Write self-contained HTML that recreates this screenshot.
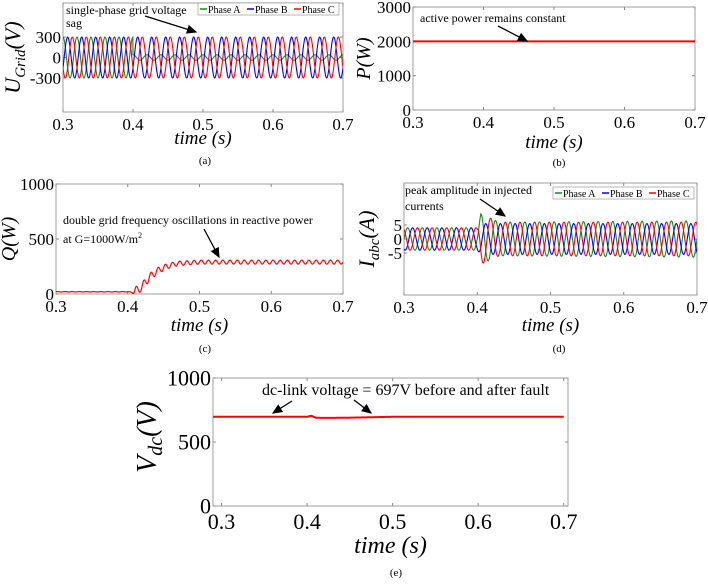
<!DOCTYPE html>
<html><head><meta charset="utf-8"><style>
html,body{margin:0;padding:0;background:#fff;}
svg, svg text{font-family:"Liberation Serif","DejaVu Serif",serif;}
</style></head><body>
<svg id="fig" width="708" height="581" viewBox="0 0 708 581" font-family="Liberation Serif, serif">
<defs><marker id="ah" markerWidth="8" markerHeight="8" refX="7" refY="4" orient="auto"><path d="M0,0.5 L8,4 L0,7.5 z" fill="#000"/></marker></defs>
</svg>
<script>
// ---- data ----
const xTicks = [0.3,0.4,0.5,0.6,0.7];
const gridFreq = 50;
const faultTime = 0.4;
const voltPhaseNames = ["Phase A","Phase B","Phase C"];
const voltAmpBefore = [300,300,300];
const voltAmpAfter = [40,300,300];
const voltYTicks = [-300,0,300];
const pTicks = [0,1000,2000,3000];
const pTimes = [0.3,0.7];
const pValues = [2000,2000];
const qTicks = [0,500,1000];
const qTimes = [0.3,0.4,0.405,0.41,0.415,0.42,0.43,0.44,0.45,0.46,0.47,0.5,0.7];
const qMean = [20,20,15,40,30,70,150,205,240,262,278,290,290];
const qRipple = [2,2,5,40,30,35,35,30,25,22,20,18,18];
const iTicks = [-5,0,5];
const iTimes = [0.3,0.4,0.405,0.43,0.7];
const iAmpA = [4,4,9,6,6.5];
const iAmpB = [4,4,5.5,5.5,5.5];
const iAmpC = [4,4,9,6,6];
const vdcTicks = [0,500,1000];
const vdcTimes = [0.3,0.4,0.405,0.41,0.42,0.45,0.5,0.7];
const vdcValues = [697,697,705,690,688,690,697,697];

const NS="http://www.w3.org/2000/svg";
const FF='Liberation Serif, serif';
const svg=document.getElementById('fig');
function el(tag,attrs,parent){const e=document.createElementNS(NS,tag);for(const k in attrs)e.setAttribute(k,attrs[k]);if(tag==='text')e.setAttribute('font-family',FF);(parent||svg).appendChild(e);return e;}
function interp(ts,vs,t){if(t<=ts[0])return vs[0];for(let i=1;i<ts.length;i++){if(t<=ts[i]){const f=(t-ts[i-1])/(ts[i]-ts[i-1]);return vs[i-1]+f*(vs[i]-vs[i-1]);}}return vs[vs.length-1];}
const colors=["#1a8a1a","#0000ff","#ff0000"];

// parts: [[text, fontSize, dy]]
function ylabel(parent,cx,cy,parts){
  const g=el('g',{transform:`translate(${cx},${cy}) rotate(-90)`},parent);
  
  
  const ts=parts.map(p=>{const t=el('text',{x:0,y:p[2],'font-size':p[1],'font-style':'italic'},g);t.textContent=p[0];return t;});
  const ws=ts.map(t=>{try{return t.getComputedTextLength();}catch(e){return 10;}});
  const total=ws.reduce((a,b)=>a+b,0);
  let x=-total/2;
  ts.forEach((t,i)=>{t.setAttribute('x',x.toFixed(1));x+=ws[i];});
}

function panel(c){
  const g=el('g',{});
  
  
  const sx=v=>c.x0+(v-c.xmin)/(c.xmax-c.xmin)*(c.x1-c.x0);
  const sy=v=>c.y1-(v-c.ymin)/(c.ymax-c.ymin)*(c.y1-c.y0);
  const box=el('rect',{x:c.x0,y:c.y0,width:c.x1-c.x0,height:c.y1-c.y0,fill:'#fff',stroke:'#888','stroke-width':0.8},g);
  
  
  xTicks.forEach(t=>{
    const X=sx(t);
    el('line',{x1:X,x2:X,y1:c.y1,y2:c.y1-3,stroke:'#888'},g);
    el('line',{x1:X,x2:X,y1:c.y0,y2:c.y0+3,stroke:'#888'},g);
    const tx=el('text',{x:X,y:c.y1+c.fs+1,'font-size':c.fs,'text-anchor':'middle'},g);
    tx.textContent=t.toFixed(1);
    
    
  });
  c.yt.forEach(t=>{
    const Y=sy(t);
    el('line',{x1:c.x0,x2:c.x0+3,y1:Y,y2:Y,stroke:'#888'},g);
    el('line',{x1:c.x1,x2:c.x1-3,y1:Y,y2:Y,stroke:'#888'},g);
    const tx=el('text',{x:c.x0-2,y:Y+c.fs*0.35,'font-size':c.fs,'text-anchor':'end'},g);
    tx.textContent=String(t);
    
    
  });
  const xl=el('text',{x:(c.x0+c.x1)/2,y:c.xly,'font-size':c.fs+2,'font-style':'italic','text-anchor':'middle'},g);
  xl.textContent='time (s)';
  
  
  ylabel(g,c.ylx,c.yly||(c.y0+c.y1)/2,c.ylabel);
  const cap=el('text',{x:c.capx,y:c.capy,'font-size':11,'text-anchor':'middle'},g);
  cap.textContent=c.cap;
  
  
  const clip='clip'+c.cap.replace(/\W/g,'');
  const cp=el('clipPath',{id:clip},g);el('rect',{x:c.x0,y:c.y0,width:c.x1-c.x0,height:c.y1-c.y0},cp);
  c.series.forEach((s,i)=>{
    let d='';const N=1600;
    for(let k=0;k<=N;k++){const t=c.xmin+(0.7-c.xmin)*k/N;d+=(k?'L':'M')+sx(t).toFixed(2)+','+sy(s.f(t)).toFixed(2);}
    const p=el('path',{d:d,fill:'none',stroke:s.color,'stroke-width':s.w||1.2,'clip-path':`url(#${clip})`},g);
    
    
  });
  return {g,sx,sy};
}
function note(lines,x,y,fs,lh){lines.forEach((l,i)=>{const t=el('text',{x:x,y:y+i*lh,'font-size':fs});t.innerHTML=l;});}
function arrow(x1,y1,x2,y2){const a=el('line',{x1,y1,x2,y2,stroke:'#000','stroke-width':1.3,'marker-end':'url(#ah)'});}
function legend(x,y,w){
  const g=el('g',{});
  
  
  el('rect',{x,y,width:w,height:12,fill:'#fff',stroke:'#888','stroke-width':0.6},g);
  const seg=w/3;
  voltPhaseNames.forEach((n,i)=>{
    const e=el('g',{},g);
    
    
    el('line',{x1:x+2+i*seg,x2:x+9+i*seg,y1:y+6,y2:y+6,stroke:colors[i],'stroke-width':1.5},e);
    const t=el('text',{x:x+10+i*seg,y:y+10,'font-size':10},e);t.textContent=n;
  });
}
const w=2*Math.PI*gridFreq;

// (a)
panel({name:'panel-a-grid-voltage',x0:63,x1:343,y0:3,y1:112,xmin:0.3,xmax:0.7,ymin:-800,ymax:800,yt:voltYTicks,fs:17,
  ylx:20,ylabel:[['U',22,0],['Grid',15,5],[' (V)',22,0]],xly:144,cap:'(a)',capx:205,capy:164,
  series:[0,1,2].map(i=>({name:'voltage-'+voltPhaseNames[i].toLowerCase().replace(' ','-'),color:colors[i],w:1.1,
    f:t=>(t<faultTime?voltAmpBefore[i]:voltAmpAfter[i])*Math.sin(w*t-i*2*Math.PI/3+Math.PI/2)}))});
legend(198,3,141);
note(['single-phase grid voltage','sag'],66,14,12,13);
arrow(145,16,196,32);

// (b)
panel({name:'panel-b-active-power',x0:413,x1:695,y0:7,y1:110,xmin:0.3,xmax:0.7,ymin:0,ymax:3000,yt:pTicks,fs:17,
  ylx:370,ylabel:[['P(W)',20,0]],xly:148,cap:'(b)',capx:559,capy:166,
  series:[{name:'active-power-line',color:'#ff0000',w:2,f:t=>interp(pTimes,pValues,t)}]});
note(['active power remains constant'],420,22,12,13);
arrow(498,26,527,41);

// (c)
panel({name:'panel-c-reactive-power',x0:56,x1:343,y0:184,y1:294,xmin:0.3,xmax:0.7,ymin:0,ymax:1000,yt:qTicks,fs:17,
  ylx:15,ylabel:[['Q(W)',20,0]],xly:331,cap:'(c)',capx:205,capy:352,
  series:[{name:'reactive-power-line',color:'#ff0000',w:1.2,f:t=>interp(qTimes,qMean,t)+interp(qTimes,qRipple,t)*Math.sin(2*w*t)}]});
note(['double grid frequency oscillations in reactive power','at G=1000W/m<tspan font-size="8" dy="-5">2</tspan>'],63,224,12,19);
arrow(204,229,219,257);

// (d)
panel({name:'panel-d-injected-currents',x0:404,x1:697,y0:183,y1:295,xmin:0.3,xmax:0.7,ymin:-20,ymax:20,yt:iTicks,fs:17,
  ylx:374,ylabel:[['I',22,0],['abc',15,5],['(A)',22,0]],xly:331,cap:'(d)',capx:559,capy:352,
  series:[iAmpA,iAmpB,iAmpC].map((amp,i)=>({name:'current-'+voltPhaseNames[i].toLowerCase().replace(' ','-'),color:colors[i],w:1.1,
    f:t=>interp(iTimes,amp,t)*Math.cos(w*(t-0.405)-i*2*Math.PI/3)}))});
legend(553,187,141);
note(['peak amplitude in injected','currents'],405,194,12,16);
arrow(480,199,505,216);

// (e)
panel({name:'panel-e-dc-link-voltage',x0:213,x1:568,y0:378,y1:506,xmin:0.29,xmax:0.705,ymin:0,ymax:1000,yt:vdcTicks,fs:22,
  ylx:156,yly:437,ylabel:[['V',28,0],['dc',20,6],[' (V)',28,0]],xly:553,cap:'(e)',capx:396,capy:576,
  series:[{name:'dc-link-voltage-line',color:'#ff0000',w:2,f:t=>interp(vdcTimes,vdcValues,t)}]});
note(['dc-link voltage = 697V before and after fault'],262,395,16,16);
arrow(292,401,273,413);
arrow(354,400,371,413);
</script>
</body></html>
